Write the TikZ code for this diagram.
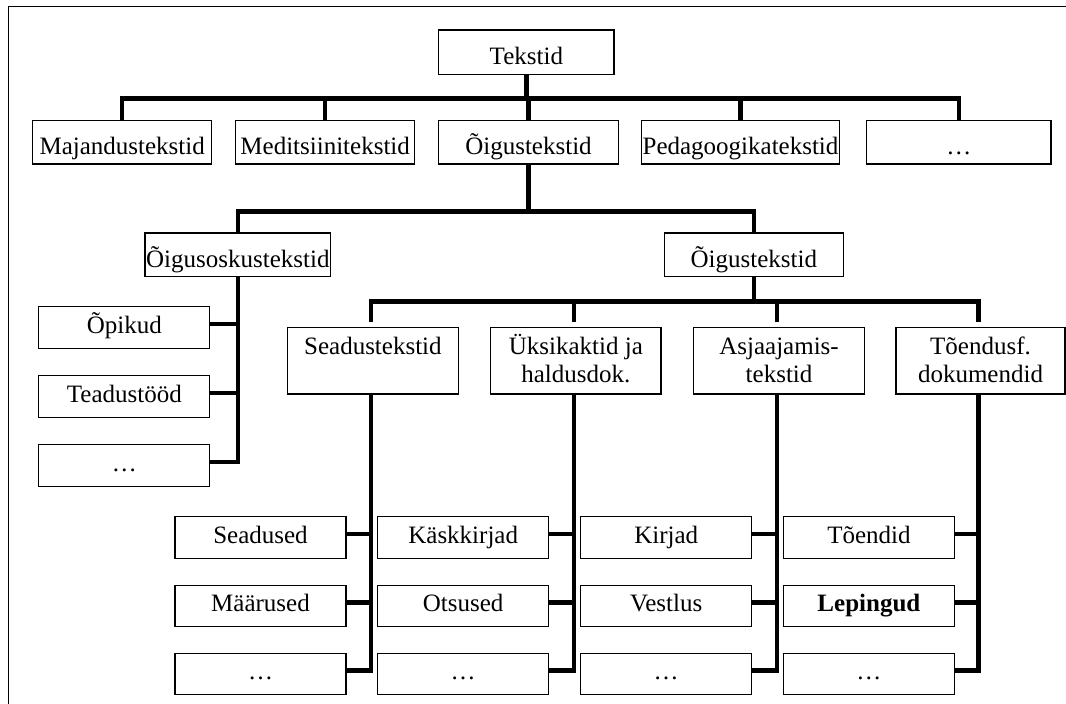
\documentclass[tikz,border=0pt]{standalone}
\usepackage{fontspec}
\setmainfont{Liberation Serif}
\usetikzlibrary{calc}
\begin{document}
\begin{tikzpicture}[x=1pt,y=-1pt,
  every node/.style={font=\fontsize{25}{28.7}\selectfont},
  cell/.style={draw, line width=1.2pt, inner sep=0pt},
  tallcell/.style={cell, text height=25pt, text depth=0pt},
  leafcell/.style={cell, text height=17pt, text depth=6pt, minimum width=171pt, minimum height=41.5pt},
  groupcell/.style={cell, text height=20pt, text depth=33.7pt, minimum height=66.3pt},
  conn/.style={line width=4.5pt},
  frame/.style={line width=1.8pt}]
\useasboundingbox (0,0) rectangle (1066,704);

% outer frame (top and left edges)
\draw[frame] (8.5,704) -- (8.5,6.5) -- (1066,6.5);

% level 1
\node[tallcell, minimum width=175.3pt, minimum height=44.3pt] (tek) at (526.35,52.15) {Tekstid};

% level 2
\node[tallcell, minimum width=179pt,   minimum height=43.3pt] (maj)   at (122.2,142.35)  {Majandustekstid};
\node[tallcell, minimum width=178.9pt, minimum height=43.3pt] (med)   at (325.15,142.35) {Meditsiinitekstid};
\node[tallcell, minimum width=179.6pt, minimum height=43.3pt] (oig)   at (528.5,142.35)  {Õigustekstid};
\node[tallcell, minimum width=197.6pt, minimum height=43.3pt] (ped)   at (740.5,142.35)  {Pedagoogikatekstid};
\node[tallcell, minimum width=184.3pt, minimum height=43.3pt] (dots1) at (958.85,142.35) {…};

% level 3
\node[tallcell, minimum width=185.7pt, minimum height=43.5pt] (oso)  at (237.85,254.75) {Õigusoskustekstid};
\node[tallcell, minimum width=178.6pt, minimum height=43.5pt] (oig3) at (753.8,254.75)  {Õigustekstid};

% children of Õigusoskustekstid
\node[leafcell, minimum height=42.5pt] (op1) at (124.3,327.5) {Õpikud};
\node[leafcell, minimum height=42.5pt] (op2) at (124.3,396.5) {Teadustööd};
\node[leafcell, minimum height=42.5pt] (op3) at (124.3,465.5) {…};

% level 4
\node[groupcell, minimum width=170.8pt] (sea) at (372.9,360.85)  {\begin{tabular}[t]{@{}c@{}}Seadustekstid\end{tabular}};
\node[groupcell, minimum width=170.3pt] (uks) at (575.85,360.85) {\begin{tabular}[t]{@{}c@{}}Üksikaktid ja\\haldusdok.\end{tabular}};
\node[groupcell, minimum width=171.3pt] (asj) at (779.05,360.85) {\begin{tabular}[t]{@{}c@{}}Asjaajamis-\\tekstid\end{tabular}};
\node[groupcell, minimum width=169pt]   (toe) at (980.5,360.85)  {\begin{tabular}[t]{@{}c@{}}Tõendusf.\\dokumendid\end{tabular}};

% leaves
\node[leafcell] (sea1) at (260.5,537.5) {Seadused};
\node[leafcell] (sea2) at (260.5,606)   {Määrused};
\node[leafcell] (sea3) at (260.5,674)   {…};
\node[leafcell] (uks1) at (463.2,537.5) {Käskkirjad};
\node[leafcell] (uks2) at (463.2,606)   {Otsused};
\node[leafcell] (uks3) at (463.2,674)   {…};
\node[leafcell] (asj1) at (666.2,537.5) {Kirjad};
\node[leafcell] (asj2) at (666.2,606)   {Vestlus};
\node[leafcell] (asj3) at (666.2,674)   {…};
\node[leafcell] (toe1) at (868.9,537.5) {Tõendid};
\node[leafcell] (toe2) at (868.9,606)   {\textbf{Lepingud}};
\node[leafcell] (toe3) at (868.9,674)   {…};

% bus levels
\coordinate (bar1) at (526,98.3);
\coordinate (bar2) at (527,211.5);
\coordinate (bar3) at (754,301.7);

% Tekstid -> level 2
\draw[conn] (tek.south) -- (tek.south |- bar1);
\draw[conn] (maj.north) |- (bar1) -| (dots1.north);
\draw[conn] (med.north) -- (med.north |- bar1);
\draw[conn] (oig.north) -- (oig.north |- bar1);
\draw[conn] (ped.north) -- (ped.north |- bar1);

% Õigustekstid -> level 3
\draw[conn] (oig.south) -- (oig.south |- bar2);
\draw[conn] (oso.north) |- (bar2) -| (oig3.north);

% Õigusoskustekstid -> its children
\coordinate (o1) at ([yshift=3.5pt]op1.east);
\coordinate (o2) at ([yshift=3.5pt]op2.east);
\coordinate (o3) at ([yshift=3.5pt]op3.east);
\draw[conn] (oso.south) |- (o3);
\draw[conn] (o1) -- (o1 -| oso.south);
\draw[conn] (o2) -- (o2 -| oso.south);

% Õigustekstid -> level 4 (drops stop short of the boxes)
\coordinate (dsea) at ([xshift=-2pt,yshift=5pt]sea.north);
\coordinate (duks) at ([xshift=-2pt,yshift=5pt]uks.north);
\coordinate (dasj) at ([xshift=-2pt,yshift=5pt]asj.north);
\coordinate (dtoe) at ([xshift=-2pt,yshift=5pt]toe.north);
\draw[conn] (oig3.south) -- (oig3.south |- bar3);
\draw[conn] (dsea) |- (bar3) -| (dtoe);
\draw[conn] (duks) -- (duks |- bar3);
\draw[conn] (dasj) -- (dasj |- bar3);

% level 4 -> leaves
\foreach \g in {sea,uks,asj,toe}{
  \coordinate (v\g) at ([xshift=-2pt,yshift=2pt]\g.south);
  \coordinate (c\g1) at ([yshift=3.5pt]\g1.east);
  \coordinate (c\g2) at ([yshift=3.5pt]\g2.east);
  \coordinate (c\g3) at ([yshift=3.5pt]\g3.east);
  \draw[conn] (v\g) |- (c\g3);
  \draw[conn] (c\g1) -- (c\g1 -| v\g);
  \draw[conn] (c\g2) -- (c\g2 -| v\g);
}
\end{tikzpicture}
\end{document}
